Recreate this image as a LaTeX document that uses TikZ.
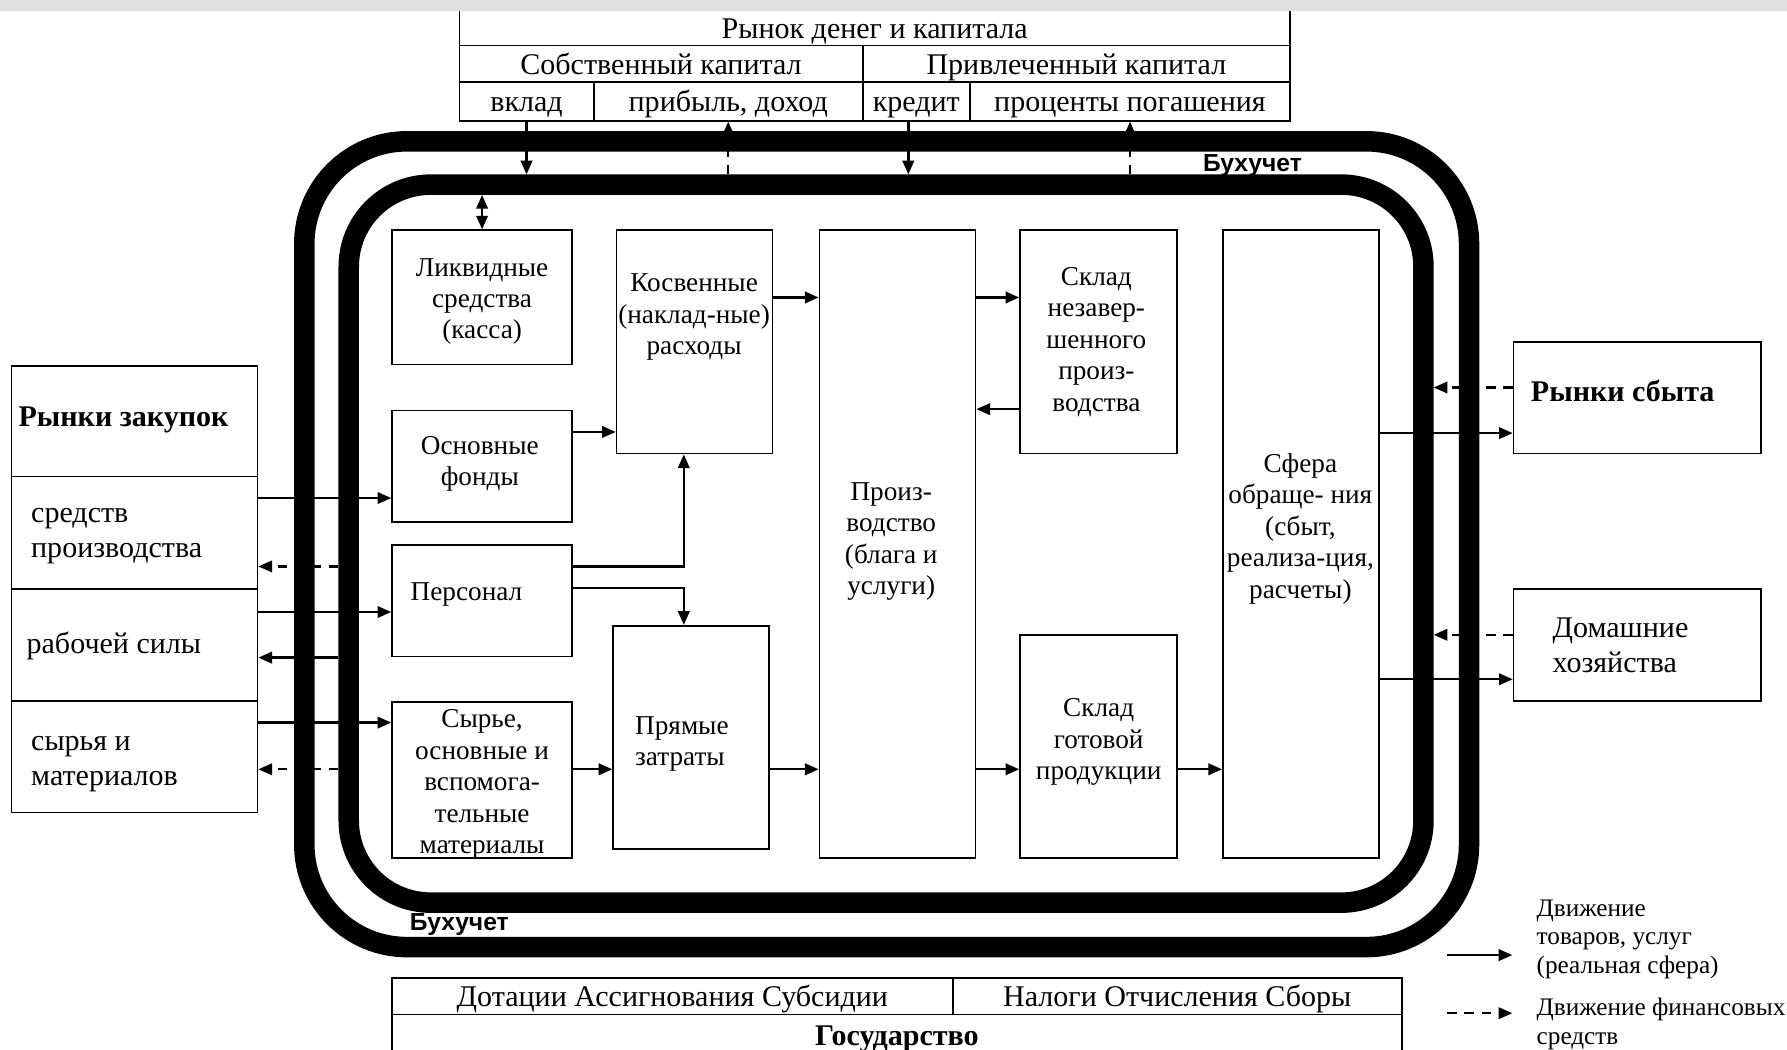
\documentclass[tikz,border=0pt]{standalone}
\usepackage{fontspec}
\setmainfont{Liberation Serif}
\newfontfamily\buxfont{Liberation Sans}
\usetikzlibrary{arrows.meta}
\begin{document}
\begin{tikzpicture}[x=0.02cm,y=-0.02cm,
  box/.style={draw, line width=0.8pt, inner sep=0pt, rectangle},
  cell/.style={draw, line width=0.8pt, inner sep=0pt, text height=0.46cm, text depth=0.09cm, font=\fontsize{15}{17}\selectfont},
  txt/.style={inner sep=0pt, align=center, font=\fontsize{13.6}{15.7}\selectfont},
  ltxt/.style={inner sep=0pt, align=left, anchor=west, font=\fontsize{15}{17.6}\selectfont},
  lgtxt/.style={inner sep=0pt, align=left, anchor=west, font=\fontsize{12.6}{14.2}\selectfont},
  band/.style={line width=0.36cm, draw=black},
  arr/.style={line width=1.2pt, -{Triangle[length=0.24cm,width=0.2cm]}},
  darr/.style={arr, dash pattern=on 0.17cm off 0.13cm},
  dblarr/.style={line width=1.2pt, {Triangle[length=0.24cm,width=0.2cm]}-{Triangle[length=0.24cm,width=0.2cm]}},
  bux/.style={inner sep=0pt, font=\buxfont\bfseries\fontsize{12.3}{14}\selectfont},
]
\useasboundingbox (0,0) rectangle (1568,921);

% accounting bands
\draw[band, rounded corners=1.8cm] (267,124) rectangle (1289,831);
\draw[band, rounded corners=1.44cm] (306,162) rectangle (1249,792);
\node[bux] (buxTop) at (1099,145) {Бухучет};
\node[bux] (buxBot) at (403,811) {Бухучет};

% top table
\node[cell, minimum width=14.58cm, minimum height=0.62cm] (r1) at (767.5,24.5) {Рынок денег и капитала};
\node[cell, minimum width=7.08cm, minimum height=0.64cm] (r2a) at (580,56) {Собственный капитал};
\node[cell, minimum width=7.5cm, minimum height=0.64cm] (r2b) at (944.5,56) {Привлеченный капитал};
\node[cell, minimum width=2.36cm, minimum height=0.68cm] (r3a) at (462,89) {вклад};
\node[cell, minimum width=4.72cm, minimum height=0.68cm] (r3b) at (639,89) {прибыль, доход};
\node[cell, minimum width=1.88cm, minimum height=0.68cm] (r3c) at (804,89) {кредит};
\node[cell, minimum width=5.62cm, minimum height=0.68cm] (r3d) at (991.5,89) {проценты погашения};

% bottom table
\node[cell, minimum width=9.84cm, minimum height=0.64cm] (b1a) at (590,874) {Дотации Ассигнования Субсидии};
\node[cell, minimum width=7.88cm, minimum height=0.64cm] (b1b) at (1033,874) {Налоги Отчисления Сборы};
\node[draw, line width=0.8pt, inner sep=0pt, minimum width=17.72cm, minimum height=0.8cm] (b2) at (787,910) {};
\node[inner sep=0pt, font=\bfseries\fontsize{15}{17}\selectfont] (gosT) at (787,912) {Государство};

% inner boxes
\node[box, minimum width=3.16cm, minimum height=2.36cm] (liq) at (423,261) {};
\node[box, minimum width=3.16cm, minimum height=1.96cm] (fond) at (423,409) {};
\node[box, minimum width=3.16cm, minimum height=1.96cm] (pers) at (423,527) {};
\node[box, minimum width=3.16cm, minimum height=2.74cm] (syr) at (423,684.5) {};
\node[box, minimum width=2.74cm, minimum height=3.92cm] (kosv) at (609.5,300) {};
\node[box, minimum width=2.74cm, minimum height=3.92cm] (pryam) at (606.5,647) {};
\node[box, minimum width=2.74cm, minimum height=11.02cm] (proizv) at (787.5,477.5) {};
\node[box, minimum width=2.76cm, minimum height=3.92cm] (sklN) at (964,300) {};
\node[box, minimum width=2.76cm, minimum height=3.92cm] (sklG) at (964,655) {};
\node[box, minimum width=2.74cm, minimum height=11.02cm] (sfera) at (1141.5,477.5) {};

\node[txt] (liqT) at (423,264.5) {Ликвидные\\средства\\(касса)};
\node[txt] (fondT) at (421,407) {Основные\\фонды};
\node[txt, anchor=west] (persT) at (360,522) {Персонал};
\node[txt] (syrT) at (423,688.5) {Сырье,\\основные и\\вспомога-\\тельные\\материалы};
\node[txt] (kosvT) at (609,278.5) {Косвенные\\(наклад-ные)\\расходы};
\node[txt, anchor=west, align=left] (pryamT) at (557,653) {Прямые\\затраты};
\node[txt] (proizvT) at (782,475) {Произ-\\водство\\(блага и\\услуги)};
\node[txt] (sklNT) at (962,300) {Склад\\незавер-\\шенного\\произ-\\водства};
\node[txt] (sklGT) at (964,651) {Склад\\готовой\\продукции};
\node[txt] (sferaT) at (1141,464) {Сфера\\обраще- ния\\(сбыт,\\реализа-ция,\\расчеты)};

% left markets
\node[box, minimum width=4.32cm, minimum height=1.94cm] (zak0) at (118,369.5) {};
\node[box, minimum width=4.32cm, minimum height=1.98cm] (zak1) at (118,467.5) {};
\node[box, minimum width=4.32cm, minimum height=1.96cm] (zak2) at (118,566) {};
\node[box, minimum width=4.32cm, minimum height=1.96cm] (zak3) at (118,664) {};
\node[ltxt, font=\bfseries\fontsize{15}{17.6}\selectfont] (zak0T) at (16,368) {Рынки закупок};
\node[ltxt] (zak1T) at (27,470.5) {средств\\производства};
\node[ltxt] (zak2T) at (23,567) {рабочей силы};
\node[ltxt] (zak3T) at (27,670.5) {сырья и\\материалов};

% right markets
\node[box, minimum width=4.34cm, minimum height=1.96cm] (sbyt) at (1436.5,349) {};
\node[box, minimum width=4.34cm, minimum height=1.96cm] (dom) at (1436.5,566) {};
\node[ltxt, font=\bfseries\fontsize{15}{17.6}\selectfont] (sbytT) at (1343,343) {Рынки сбыта};
\node[ltxt] (domT) at (1362,566) {Домашние\\хозяйства};

% top arrows
\draw[arr] (r3a.south) -- (r3a.south |- 0,153);
\draw[darr] (r3b.south |- 0,153) -- (r3b.south);
\draw[arr] ([xshift=-0.14cm]r3c.south) -- ([xshift=-0.14cm]r3c.south |- 0,153);
\draw[darr] (r3d.south |- 0,153) -- (r3d.south);
\draw[dblarr] (liq.north |- 0,171) -- (liq.north);

% left arrows
\draw[arr] (zak1.east |- 0,437) -- (fond.west |- 0,437);
\draw[darr] (297,497) -- (zak1.east |- 0,497);
\draw[arr] (zak2.east |- 0,537) -- (pers.west |- 0,537);
\draw[arr] (297,577) -- (zak2.east |- 0,577);
\draw[arr] (zak3.east |- 0,634) -- (syr.west |- 0,634);
\draw[darr] (297,675) -- (zak3.east |- 0,675);

% right arrows
\draw[darr] (sbyt.west |- 0,340) -- (1258,340);
\draw[arr] (sfera.east |- 0,380) -- (sbyt.west |- 0,380);
\draw[darr] (dom.west |- 0,557) -- (1258,557);
\draw[arr] (sfera.east |- 0,596) -- (dom.west |- 0,596);

% internal arrows
\draw[arr] (fond.east |- 0,379) -- (kosv.west |- 0,379);
\draw[arr] (pers.east |- 0,497) -| ([xshift=-0.19cm]kosv.south);
\draw[arr] (pers.east |- 0,516) -| ([xshift=-0.13cm]pryam.north);
\draw[arr] (syr.east |- 0,675) -- (pryam.west |- 0,675);
\draw[arr] (kosv.east |- 0,261) -- (proizv.west |- 0,261);
\draw[arr] (pryam.east |- 0,675) -- (proizv.west |- 0,675);
\draw[arr] (proizv.east |- 0,261) -- (sklN.west |- 0,261);
\draw[arr] (sklN.west |- 0,359) -- (proizv.east |- 0,359);
\draw[arr] (proizv.east |- 0,675) -- (sklG.west |- 0,675);
\draw[arr] (sklG.east |- 0,675) -- (sfera.west |- 0,675);

% legend
\coordinate (lgA1) at (1270,838);
\coordinate (lgA2) at (1327,838);
\coordinate (lgB1) at (1270,889);
\coordinate (lgB2) at (1327,889);
\draw[arr] (lgA1) -- (lgA2);
\draw[darr] (lgB1) -- (lgB2);
\node[lgtxt] (lgAT) at (1348,824) {Движение\\товаров, услуг\\(реальная сфера)};
\node[lgtxt] (lgBT) at (1348,898.5) {Движение финансовых\\средств};

% blurred strip at the top
\fill[black!12] (0,0) rectangle (1568,10);
\end{tikzpicture}
\end{document}
